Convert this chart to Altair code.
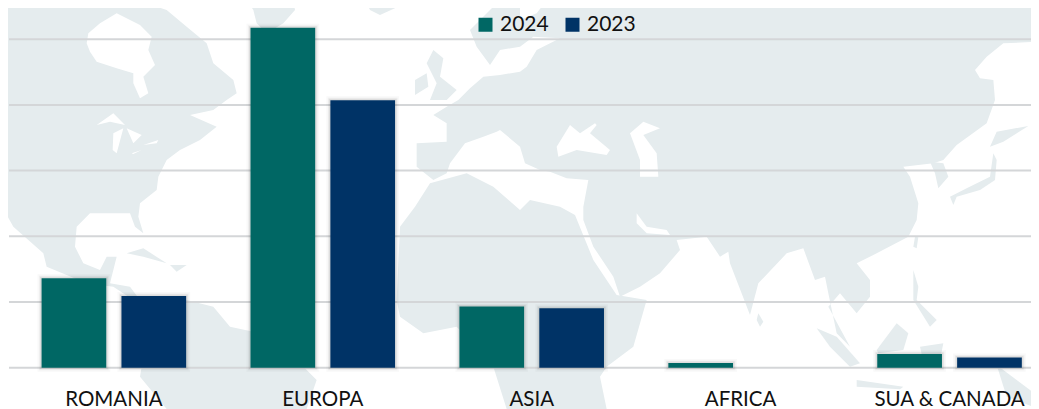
import altair as alt
import pandas as pd

categories = ["ROMANIA", "EUROPA", "ASIA", "AFRICA", "SUA & CANADA"]
values_2024 = [136, 517.5, 93, 7, 21]
values_2023 = [109, 407, 90.5, 0, 15.5]
grid_values = [0, 100, 200, 300, 400, 500]
years = ["2024", "2023"]
year_colors = ["#006764", "#003366"]

# Backdrop world map outline at 3x scale
R = 1560
def right(pts):
    return [[x + R, y] for x, y in pts]

north_america = [[0,0],[310,0],[360,50],[330,20],[440,10],[500,30],[560,80],[620,130],[640,190],[700,240],[710,280],[680,300],[640,330],[570,345],[650,380],[600,420],[540,450],[500,480],[475,530],[470,570],[420,610],[415,650],[430,700],[405,680],[390,640],[330,640],[270,640],[230,680],[225,740],[250,790],[300,810],[320,770],[350,770],[330,850],[390,860],[420,900],[560,900],[640,920],[690,980],[760,995],[900,1090],[950,1140],[920,1227],[500,1227],[420,1130],[425,1100],[400,900],[340,860],[260,850],[140,800],[130,760],[40,680],[0,610]]
greenland = [[740,0],[880,0],[885,30],[850,70],[800,100],[770,70],[760,30]]
iceland = [[1100,10],[1130,0],[1195,0],[1195,20],[1140,45],[1110,30]]
britain = [[1300,150],[1330,175],[1320,230],[1370,270],[1340,300],[1290,300],[1310,250],[1280,190]]
ireland = [[1245,240],[1280,220],[1285,260],[1245,285]]
eurasia = [[1500,0],[3120,0],[3120,125]] + right([[1450,130],[1400,170],[1365,210],[1380,235],[1420,240],[1425,300],[1400,370],[1310,435],[1270,480],[1240,490],[1150,500],[1170,530],[1195,610],[1190,660],[1165,710],[1060,765],[1010,790],[1050,840],[1050,890],[1010,940],[960,880],[925,920],[990,1040],[950,1000],[925,880],[915,830],[885,840],[850,745],[800,760],[715,850],[690,945],[630,790],[625,755],[600,770],[560,710],[470,720],[480,750],[420,820],[360,860],[300,890],[280,830],[220,740],[190,660],[190,620],[205,540],[140,535],[90,515],[60,510],[15,490],[0,440]]) + [[1500,390],[1490,395],[1450,410],[1395,430],[1350,490],[1340,520],[1300,540],[1250,500],[1250,430],[1340,425],[1340,370],[1300,345],[1340,320],[1375,300],[1410,265],[1450,230],[1500,225],[1560,215],[1580,200],[1610,150],[1680,115],[1600,110],[1560,140],[1500,150],[1470,195],[1430,140],[1410,90]]
africa = [[1290,550],[1400,520],[1480,560],[1560,630],[1590,600],[1680,620],[1725,645],[1780,780],[1850,885],[1940,900],[1900,1040],[1820,1100],[1800,1130],[1820,1227],[1520,1227],[1480,1100],[1370,980],[1270,1000],[1200,950],[1190,900],[1200,680],[1245,620]]
japan = right([[1290,590],[1340,565],[1410,530],[1420,460],[1430,480],[1425,540],[1380,570],[1310,590],[1300,615]])
hokkaido = right([[1410,440],[1430,395],[1525,378],[1450,425]])
korea = right([[1230,485],[1270,490],[1285,530],[1255,565],[1245,520]])
taiwan = right([[1185,710],[1195,712],[1190,745],[1180,740]])
sri_lanka = right([[715,940],[730,965],[720,980],[710,960]])
sumatra = right([[890,985],[950,1010],[1020,1090],[990,1100],[930,1040]])
borneo = right([[1070,1050],[1130,970],[1165,1000],[1150,1050],[1075,1060]])
celebes = right([[1200,1040],[1270,1030],[1260,1080],[1210,1085]])
java = right([[1010,1140],[1150,1160],[1140,1168],[1010,1160]])
guinea = right([[1430,1095],[1557,1190],[1557,1227],[1460,1190]])
philippines = right([[1180,810],[1195,860],[1190,900],[1250,960],[1230,980],[1180,900]])
cuba = [[380,760],[430,745],[500,790],[430,770]]
hispaniola = [[510,795],[560,795],[530,815]]

hudson = [[260,130],[265,100],[300,70],[350,40],[420,75],[455,110],[445,150],[465,195],[430,230],[445,280],[420,295],[400,250],[400,220],[350,205],[290,185],[270,155]]
lake_superior = [[290,375],[340,340],[375,375],[330,365]]
lake_michigan = [[340,400],[370,385],[350,460],[338,450]]
lake_huron = [[380,385],[425,405],[400,430]]
lake_erie = [[395,460],[425,450],[400,462]]
lake_ontario = [[430,435],[475,420],[470,430]]
black_sea = right([[110,440],[150,375],[180,400],[225,370],[230,375],[210,400],[270,450],[260,465],[170,450],[115,470]])
caspian = right([[330,400],[370,365],[420,385],[370,405],[410,460],[415,530],[360,530],[360,480]])
persian_gulf = right([[350,640],[380,680],[440,690],[450,705],[380,700],[350,670]])
sweden_sea = right([[0,0],[80,0],[50,40],[0,60]])

land_shapes = [north_america, greenland, iceland, britain, ireland, eurasia, africa, japan, hokkaido, korea, taiwan, sri_lanka, sumatra, borneo, celebes, java, guinea, philippines]
water_shapes = [hudson, lake_superior, lake_michigan, lake_huron, lake_erie, lake_ontario, black_sea, caspian, persian_gulf, sweden_sea]
isle_shapes = [cuba, hispaniola]

def features(shapes):
    return [{"type": "Feature", "properties": {}, "geometry": {"type": "Polygon", "coordinates": [s + [s[0]]]}} for s in shapes]

df = pd.DataFrame({
    "cat": categories * 2,
    "year": [years[0]] * 5 + [years[1]] * 5,
    "value": values_2024 + values_2023,
})
df = df[df["value"] > 0]

PLOT_H = 359.7
Y_MAX = 547.5
xs = alt.X("cat:N", sort=categories, axis=None,
           scale=alt.Scale(range=[1.4, 1046], paddingInner=0.308, paddingOuter=0.154))
ys = alt.Y("value:Q", axis=None, scale=alt.Scale(domain=[0, Y_MAX], range=[PLOT_H, 0]))
xo = alt.XOffset("year:N", sort=years, scale=alt.Scale(paddingInner=0.19, paddingOuter=0))

proj = alt.Projection(type="identity", scale=1/3, translate=[-8, -8])

def geo(shapes, color):
    return alt.Chart(alt.Data(values=features(shapes))).mark_geoshape(
        fill=color, strokeWidth=0).project(**proj.to_dict())

land = geo(land_shapes, "#e5ecee")
water = geo(water_shapes, "#ffffff")
isles = geo(isle_shapes, "#e5ecee")

grid = alt.Chart(pd.DataFrame({"g": grid_values})).mark_rule(
    color="#d4d6d8", strokeWidth=2
).encode(
    y=alt.Y("g:Q", axis=None, scale=alt.Scale(domain=[0, Y_MAX], range=[PLOT_H, 0])),
    x=alt.value(1), x2=alt.value(1023),
)

def shadow(width, opacity):
    return alt.Chart(df).mark_bar(fillOpacity=0, stroke="#333333", strokeWidth=width, strokeOpacity=opacity).encode(
        x=xs, xOffset=xo, y=ys)

bars = alt.Chart(df).mark_bar().encode(
    x=xs, xOffset=xo, y=ys,
    color=alt.Color("year:N", sort=years,
                    scale=alt.Scale(domain=years, range=year_colors),
                    legend=alt.Legend(title=None, orient="none", direction="horizontal",
                                      legendX=467, legendY=6, symbolType="square",
                                      symbolSize=196, symbolStrokeWidth=0,
                                      labelFont="Lato", labelFontSize=21, labelColor="#111111",
                                      labelOffset=4, columnPadding=13, padding=0)),
)
labels = alt.Chart(pd.DataFrame({"cat": categories})).mark_text(
    font="Lato", fontSize=20.5, color="#111111", baseline="middle"
).encode(x=xs, y=alt.value(392), text="cat:N")

chart = alt.layer(land, water, isles, grid, shadow(8, 0.03), shadow(5, 0.05), shadow(3, 0.09), bars, labels).resolve_scale(
    y="shared"
).properties(
    width=1023, height=401, padding=0, background="white",
    autosize=alt.AutoSizeParams(type="none"),
).configure_view(stroke=None)

chart.save("out.html", embed_options={"renderer": "svg", "actions": False})
